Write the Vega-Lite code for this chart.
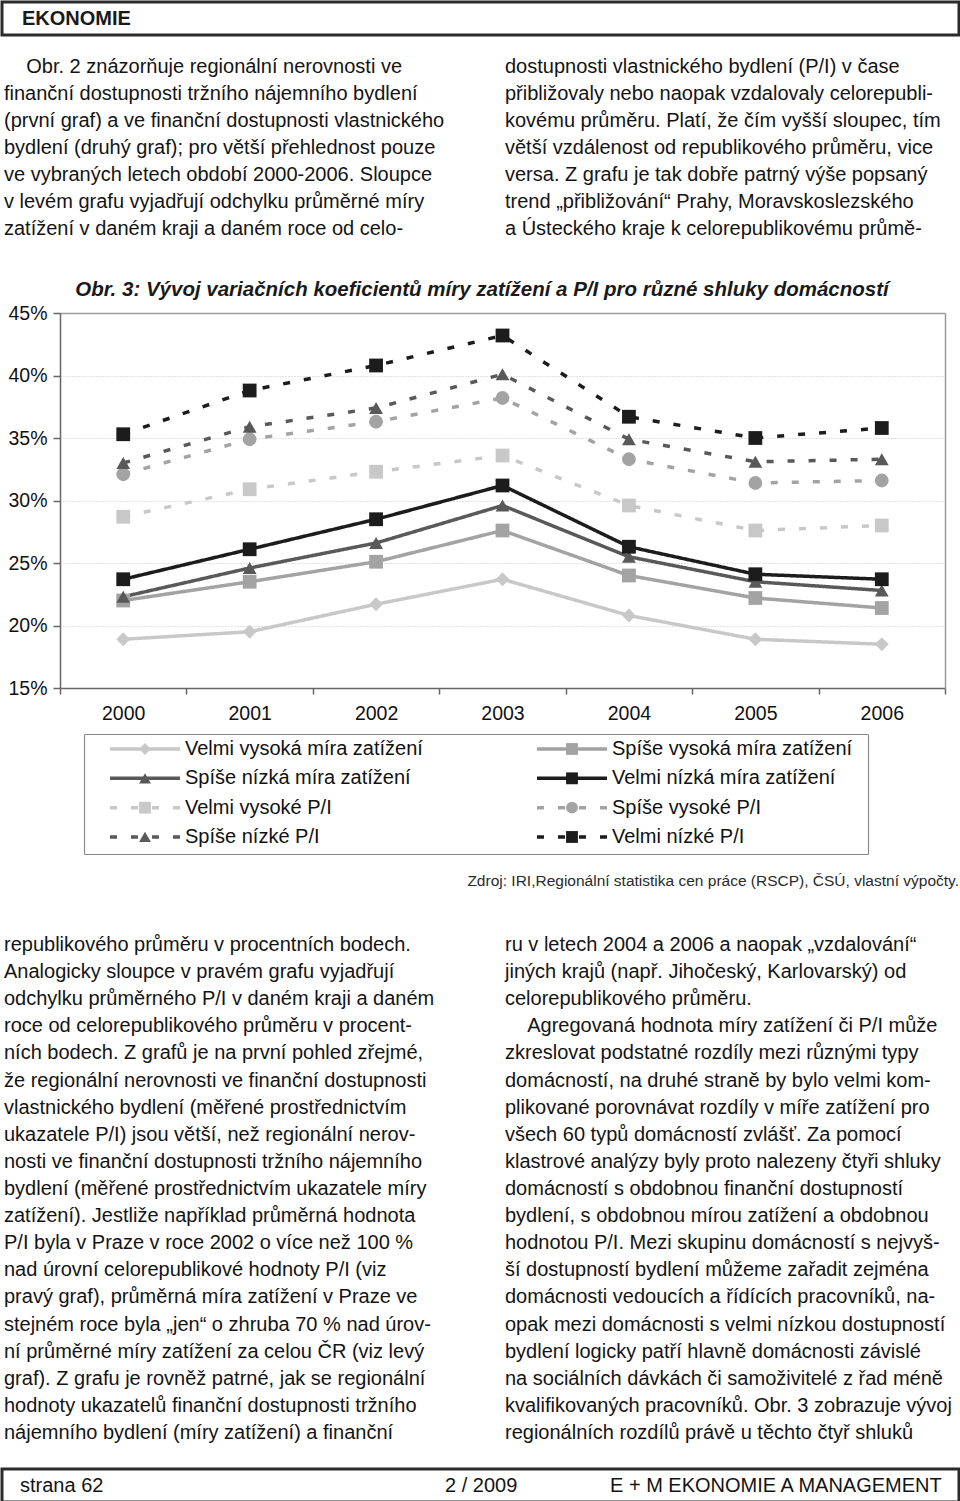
{
  "$schema": "https://vega.github.io/schema/vega-lite/v6.json",
  "background": "white",
  "padding": 0,
  "spacing": 0,
  "bounds": "flush",
  "config": {
    "font": "Liberation Sans",
    "view": {"stroke": null},
    "text": {"font": "Liberation Sans"}
  },
  "datasets": {
    "head": [{"slot": 0, "t": "EKONOMIE"}],
    "top": [
      {"c": 0, "l": 1, "t": "\u200b\u00a0\u00a0\u00a0\u00a0Obr. 2 znázorňuje regionální nerovnosti ve"},
      {"c": 0, "l": 2, "t": "finanční dostupnosti tržního nájemního bydlení"},
      {"c": 0, "l": 3, "t": "(první graf) a ve finanční dostupnosti vlastnického"},
      {"c": 0, "l": 4, "t": "bydlení (druhý graf); pro větší přehlednost pouze"},
      {"c": 0, "l": 5, "t": "ve vybraných letech období 2000-2006. Sloupce"},
      {"c": 0, "l": 6, "t": "v levém grafu vyjadřují odchylku průměrné míry"},
      {"c": 0, "l": 7, "t": "zatížení v daném kraji a daném roce od celo-"},
      {"c": 1, "l": 1, "t": "dostupnosti vlastnického bydlení (P/I) v čase"},
      {"c": 1, "l": 2, "t": "přibližovaly nebo naopak vzdalovaly celorepubli-"},
      {"c": 1, "l": 3, "t": "kovému průměru. Platí, že čím vyšší sloupec, tím"},
      {"c": 1, "l": 4, "t": "větší vzdálenost od republikového průměru, vice"},
      {"c": 1, "l": 5, "t": "versa. Z grafu je tak dobře patrný výše popsaný"},
      {"c": 1, "l": 6, "t": "trend „přibližování“ Prahy, Moravskoslezského"},
      {"c": 1, "l": 7, "t": "a Ústeckého kraje k celorepublikovému průmě-"}
    ],
    "pct": [
      {"series": "Velmi vysoká míra zatížení", "year": "2000", "v": 0.189},
      {"series": "Velmi vysoká míra zatížení", "year": "2001", "v": 0.195},
      {"series": "Velmi vysoká míra zatížení", "year": "2002", "v": 0.217},
      {"series": "Velmi vysoká míra zatížení", "year": "2003", "v": 0.237},
      {"series": "Velmi vysoká míra zatížení", "year": "2004", "v": 0.208},
      {"series": "Velmi vysoká míra zatížení", "year": "2005", "v": 0.189},
      {"series": "Velmi vysoká míra zatížení", "year": "2006", "v": 0.185},
      {"series": "Spíše vysoká míra zatížení", "year": "2000", "v": 0.220},
      {"series": "Spíše vysoká míra zatížení", "year": "2001", "v": 0.235},
      {"series": "Spíše vysoká míra zatížení", "year": "2002", "v": 0.251},
      {"series": "Spíše vysoká míra zatížení", "year": "2003", "v": 0.276},
      {"series": "Spíše vysoká míra zatížení", "year": "2004", "v": 0.240},
      {"series": "Spíše vysoká míra zatížení", "year": "2005", "v": 0.222},
      {"series": "Spíše vysoká míra zatížení", "year": "2006", "v": 0.214},
      {"series": "Spíše nízká míra zatížení", "year": "2000", "v": 0.223},
      {"series": "Spíše nízká míra zatížení", "year": "2001", "v": 0.246},
      {"series": "Spíše nízká míra zatížení", "year": "2002", "v": 0.266},
      {"series": "Spíše nízká míra zatížení", "year": "2003", "v": 0.296},
      {"series": "Spíše nízká míra zatížení", "year": "2004", "v": 0.255},
      {"series": "Spíše nízká míra zatížení", "year": "2005", "v": 0.235},
      {"series": "Spíše nízká míra zatížení", "year": "2006", "v": 0.228},
      {"series": "Velmi nízká míra zatížení", "year": "2000", "v": 0.237},
      {"series": "Velmi nízká míra zatížení", "year": "2001", "v": 0.261},
      {"series": "Velmi nízká míra zatížení", "year": "2002", "v": 0.285},
      {"series": "Velmi nízká míra zatížení", "year": "2003", "v": 0.312},
      {"series": "Velmi nízká míra zatížení", "year": "2004", "v": 0.263},
      {"series": "Velmi nízká míra zatížení", "year": "2005", "v": 0.241},
      {"series": "Velmi nízká míra zatížení", "year": "2006", "v": 0.237},
      {"series": "Velmi vysoké P/I", "year": "2000", "v": 0.287},
      {"series": "Velmi vysoké P/I", "year": "2001", "v": 0.309},
      {"series": "Velmi vysoké P/I", "year": "2002", "v": 0.323},
      {"series": "Velmi vysoké P/I", "year": "2003", "v": 0.336},
      {"series": "Velmi vysoké P/I", "year": "2004", "v": 0.296},
      {"series": "Velmi vysoké P/I", "year": "2005", "v": 0.276},
      {"series": "Velmi vysoké P/I", "year": "2006", "v": 0.280},
      {"series": "Spíše vysoké P/I", "year": "2000", "v": 0.321},
      {"series": "Spíše vysoké P/I", "year": "2001", "v": 0.349},
      {"series": "Spíše vysoké P/I", "year": "2002", "v": 0.363},
      {"series": "Spíše vysoké P/I", "year": "2003", "v": 0.382},
      {"series": "Spíše vysoké P/I", "year": "2004", "v": 0.333},
      {"series": "Spíše vysoké P/I", "year": "2005", "v": 0.314},
      {"series": "Spíše vysoké P/I", "year": "2006", "v": 0.316},
      {"series": "Spíše nízké P/I", "year": "2000", "v": 0.330},
      {"series": "Spíše nízké P/I", "year": "2001", "v": 0.359},
      {"series": "Spíše nízké P/I", "year": "2002", "v": 0.374},
      {"series": "Spíše nízké P/I", "year": "2003", "v": 0.401},
      {"series": "Spíše nízké P/I", "year": "2004", "v": 0.349},
      {"series": "Spíše nízké P/I", "year": "2005", "v": 0.331},
      {"series": "Spíše nízké P/I", "year": "2006", "v": 0.333},
      {"series": "Velmi nízké P/I", "year": "2000", "v": 0.353},
      {"series": "Velmi nízké P/I", "year": "2001", "v": 0.388},
      {"series": "Velmi nízké P/I", "year": "2002", "v": 0.408},
      {"series": "Velmi nízké P/I", "year": "2003", "v": 0.432},
      {"series": "Velmi nízké P/I", "year": "2004", "v": 0.367},
      {"series": "Velmi nízké P/I", "year": "2005", "v": 0.350},
      {"series": "Velmi nízké P/I", "year": "2006", "v": 0.358}
    ],
    "keys": [
      {"series": "Velmi vysoká míra zatížení", "row": 0, "col": 0},
      {"series": "Spíše vysoká míra zatížení", "row": 0, "col": 1},
      {"series": "Spíše nízká míra zatížení", "row": 1, "col": 0},
      {"series": "Velmi nízká míra zatížení", "row": 1, "col": 1},
      {"series": "Velmi vysoké P/I", "row": 2, "col": 0},
      {"series": "Spíše vysoké P/I", "row": 2, "col": 1},
      {"series": "Spíše nízké P/I", "row": 3, "col": 0},
      {"series": "Velmi nízké P/I", "row": 3, "col": 1}
    ],
    "src": [{"c": 1, "t": "Zdroj: IRI,Regionální statistika cen práce (RSCP), ČSÚ, vlastní výpočty."}],
    "body": [
      {"c": 0, "l": 1, "t": "republikového průměru v procentních bodech."},
      {"c": 0, "l": 2, "t": "Analogicky sloupce v pravém grafu vyjadřují"},
      {"c": 0, "l": 3, "t": "odchylku průměrného P/I v daném kraji a daném"},
      {"c": 0, "l": 4, "t": "roce od celorepublikového průměru v procent-"},
      {"c": 0, "l": 5, "t": "ních bodech. Z grafů je na první pohled zřejmé,"},
      {"c": 0, "l": 6, "t": "že regionální nerovnosti ve finanční dostupnosti"},
      {"c": 0, "l": 7, "t": "vlastnického bydlení (měřené prostřednictvím"},
      {"c": 0, "l": 8, "t": "ukazatele P/I) jsou větší, než regionální nerov-"},
      {"c": 0, "l": 9, "t": "nosti ve finanční dostupnosti tržního nájemního"},
      {"c": 0, "l": 10, "t": "bydlení (měřené prostřednictvím ukazatele míry"},
      {"c": 0, "l": 11, "t": "zatížení). Jestliže například průměrná hodnota"},
      {"c": 0, "l": 12, "t": "P/I byla v Praze v roce 2002 o více než 100 %"},
      {"c": 0, "l": 13, "t": "nad úrovní celorepublikové hodnoty P/I (viz"},
      {"c": 0, "l": 14, "t": "pravý graf), průměrná míra zatížení v Praze ve"},
      {"c": 0, "l": 15, "t": "stejném roce byla „jen“ o zhruba 70 % nad úrov-"},
      {"c": 0, "l": 16, "t": "ní průměrné míry zatížení za celou ČR (viz levý"},
      {"c": 0, "l": 17, "t": "graf). Z grafu je rovněž patrné, jak se regionální"},
      {"c": 0, "l": 18, "t": "hodnoty ukazatelů finanční dostupnosti tržního"},
      {"c": 0, "l": 19, "t": "nájemního bydlení (míry zatížení) a finanční"},
      {"c": 1, "l": 1, "t": "ru v letech 2004 a 2006 a naopak „vzdalování“"},
      {"c": 1, "l": 2, "t": "jiných krajů (např. Jihočeský, Karlovarský) od"},
      {"c": 1, "l": 3, "t": "celorepublikového průměru."},
      {"c": 1, "l": 4, "t": "\u200b\u00a0\u00a0\u00a0\u00a0Agregovaná hodnota míry zatížení či P/I může"},
      {"c": 1, "l": 5, "t": "zkreslovat podstatné rozdíly mezi různými typy"},
      {"c": 1, "l": 6, "t": "domácností, na druhé straně by bylo velmi kom-"},
      {"c": 1, "l": 7, "t": "plikované porovnávat rozdíly v míře zatížení pro"},
      {"c": 1, "l": 8, "t": "všech 60 typů domácností zvlášť. Za pomocí"},
      {"c": 1, "l": 9, "t": "klastrové analýzy byly proto nalezeny čtyři shluky"},
      {"c": 1, "l": 10, "t": "domácností s obdobnou finanční dostupností"},
      {"c": 1, "l": 11, "t": "bydlení, s obdobnou mírou zatížení a obdobnou"},
      {"c": 1, "l": 12, "t": "hodnotou P/I. Mezi skupinu domácností s nejvyš-"},
      {"c": 1, "l": 13, "t": "ší dostupností bydlení můžeme zařadit zejména"},
      {"c": 1, "l": 14, "t": "domácnosti vedoucích a řídících pracovníků, na-"},
      {"c": 1, "l": 15, "t": "opak mezi domácnosti s velmi nízkou dostupností"},
      {"c": 1, "l": 16, "t": "bydlení logicky patří hlavně domácnosti závislé"},
      {"c": 1, "l": 17, "t": "na sociálních dávkách či samoživitelé z řad méně"},
      {"c": 1, "l": 18, "t": "kvalifikovaných pracovníků. Obr. 3 zobrazuje vývoj"},
      {"c": 1, "l": 19, "t": "regionálních rozdílů právě u těchto čtyř shluků"}
    ],
    "foot": [
      {"s": 0, "t": "strana 62"},
      {"s": 1, "t": "2 / 2009"},
      {"s": 2, "t": "E + M EKONOMIE A MANAGEMENT"}
    ]
  },
  "vconcat": [
    {
      "width": 957,
      "height": 33,
      "view": {"stroke": "#2b2b2b", "strokeWidth": 3},
      "data": {"name": "head"},
      "mark": {"type": "text", "align": "left", "baseline": "middle", "fontSize": 20, "fontWeight": "bold", "color": "#1a1a1a"},
      "encoding": {
        "x": {"field": "slot", "type": "quantitative", "scale": {"domain": [0, 1], "range": [20, 957]}, "axis": null},
        "text": {"field": "t"}
      }
    },
    {
      "width": 960,
      "height": 278,
      "data": {"name": "top"},
      "mark": {"type": "text", "align": "left", "baseline": "middle", "fontSize": 20, "color": "#141414"},
      "encoding": {
        "x": {"field": "c", "type": "quantitative", "scale": {"domain": [0, 1], "range": [2, 503]}, "axis": null},
        "y": {"field": "l", "type": "quantitative", "scale": {"domain": [1, 7], "range": [32, 194]}, "axis": null},
        "text": {"field": "t"}
      }
    },
    {
      "width": 960,
      "height": 375,
      "title": {
        "text": "Obr. 3: Vývoj variačních koeficientů míry zatížení a P/I pro různé shluky domácností",
        "anchor": "middle",
        "frame": "group",
        "offset": 3,
        "fontSize": 20.5,
        "fontWeight": "bold",
        "fontStyle": "italic",
        "color": "#1a1a1a"
      },
      "data": {"name": "pct"},
      "resolve": {"axis": {"x": "independent", "y": "independent"}},
      "layer": [
        {
          "mark": {"type": "line", "strokeWidth": 3.5},
          "encoding": {
            "x": {
              "field": "year", "type": "ordinal", "bandPosition": 0.5,
              "scale": {"type": "band", "range": [58, 943], "paddingInner": 0, "paddingOuter": 0},
              "axis": {"orient": "bottom", "title": null, "tickBand": "extent", "tickSize": 6, "tickWidth": 1.5, "tickColor": "#666", "domainColor": "#666", "domainWidth": 1.5, "labelFontSize": 19.5, "labelPadding": 10, "labelColor": "#111", "labelAngle": 0, "grid": false}
            },
            "y": {
              "field": "v", "type": "quantitative",
              "scale": {"domain": [0.15, 0.45], "nice": false, "zero": false},
              "axis": {"orient": "left", "offset": -58, "title": null, "values": [0.15, 0.2, 0.25, 0.3, 0.35, 0.4, 0.45], "format": ".0%", "tickSize": 7, "tickWidth": 1.5, "tickColor": "#666", "domainColor": "#666", "domainWidth": 1.5, "labelFontSize": 19.5, "labelPadding": 6, "labelColor": "#111", "grid": true, "gridColor": "#c4c4c4", "gridDash": [1, 2], "gridWidth": 1}
            },
            "color": {
              "field": "series", "type": "nominal", "legend": null,
              "scale": {
                "domain": ["Velmi vysoká míra zatížení", "Spíše vysoká míra zatížení", "Spíše nízká míra zatížení", "Velmi nízká míra zatížení", "Velmi vysoké P/I", "Spíše vysoké P/I", "Spíše nízké P/I", "Velmi nízké P/I"],
                "range": ["#c8c8c8", "#a3a3a3", "#595959", "#1c1c1c", "#c8c8c8", "#a3a3a3", "#595959", "#1c1c1c"]
              }
            },
            "strokeDash": {
              "field": "series", "type": "nominal", "legend": null,
              "scale": {
                "domain": ["Velmi vysoká míra zatížení", "Spíše vysoká míra zatížení", "Spíše nízká míra zatížení", "Velmi nízká míra zatížení", "Velmi vysoké P/I", "Spíše vysoké P/I", "Spíše nízké P/I", "Velmi nízké P/I"],
                "range": [[1, 0], [1, 0], [1, 0], [1, 0], [7, 14], [7, 14], [7, 14], [7, 14]]
              }
            }
          }
        },
        {
          "mark": {"type": "point", "filled": true, "opacity": 1, "size": 190},
          "encoding": {
            "x": {
              "field": "year", "type": "ordinal", "bandPosition": 0.5,
              "scale": {"type": "band", "range": [58, 943], "paddingInner": 0, "paddingOuter": 0},
              "axis": {"orient": "top", "title": null, "labels": false, "ticks": false, "grid": false, "domainColor": "#9a9a9a", "domainWidth": 1.5}
            },
            "y": {
              "field": "v", "type": "quantitative",
              "scale": {"domain": [0.15, 0.45], "nice": false, "zero": false},
              "axis": {"orient": "right", "offset": -17, "title": null, "labels": false, "ticks": false, "grid": false, "domainColor": "#9a9a9a", "domainWidth": 1.5}
            },
            "color": {
              "field": "series", "type": "nominal", "legend": null,
              "scale": {
                "domain": ["Velmi vysoká míra zatížení", "Spíše vysoká míra zatížení", "Spíše nízká míra zatížení", "Velmi nízká míra zatížení", "Velmi vysoké P/I", "Spíše vysoké P/I", "Spíše nízké P/I", "Velmi nízké P/I"],
                "range": ["#c8c8c8", "#a3a3a3", "#595959", "#1c1c1c", "#c8c8c8", "#a3a3a3", "#595959", "#1c1c1c"]
              }
            },
            "shape": {
              "field": "series", "type": "nominal", "legend": null,
              "scale": {
                "domain": ["Velmi vysoká míra zatížení", "Spíše vysoká míra zatížení", "Spíše nízká míra zatížení", "Velmi nízká míra zatížení", "Velmi vysoké P/I", "Spíše vysoké P/I", "Spíše nízké P/I", "Velmi nízké P/I"],
                "range": ["diamond", "square", "triangle-up", "square", "square", "circle", "triangle-up", "square"]
              }
            }
          }
        }
      ]
    },
    {
      "width": 960,
      "height": 166,
      "data": {"name": "keys"},
      "resolve": {"axis": {"x": "independent", "y": "independent"}},
      "layer": [
        {
          "mark": {"type": "rule", "strokeWidth": 3.5, "x2Offset": 70},
          "encoding": {
            "x": {"field": "col", "type": "quantitative", "scale": {"domain": [-0.0609, 1.7752], "range": [82, 866]}, "axis": {"orient": "bottom", "labels": false, "ticks": false, "grid": false, "title": null, "domainColor": "#8a8a8a", "domainWidth": 1.2}},
            "x2": {"field": "col"},
            "y": {"field": "row", "type": "quantitative", "scale": {"domain": [-0.511, 3.58], "range": [46, 166]}, "axis": {"orient": "left", "offset": -82, "labels": false, "ticks": false, "grid": false, "title": null, "domainColor": "#8a8a8a", "domainWidth": 1.2}},
            "color": {
              "field": "series", "type": "nominal", "legend": null,
              "scale": {
                "domain": ["Velmi vysoká míra zatížení", "Spíše vysoká míra zatížení", "Spíše nízká míra zatížení", "Velmi nízká míra zatížení", "Velmi vysoké P/I", "Spíše vysoké P/I", "Spíše nízké P/I", "Velmi nízké P/I"],
                "range": ["#c8c8c8", "#a3a3a3", "#595959", "#1c1c1c", "#c8c8c8", "#a3a3a3", "#595959", "#1c1c1c"]
              }
            },
            "strokeDash": {
              "field": "series", "type": "nominal", "legend": null,
              "scale": {
                "domain": ["Velmi vysoká míra zatížení", "Spíše vysoká míra zatížení", "Spíše nízká míra zatížení", "Velmi nízká míra zatížení", "Velmi vysoké P/I", "Spíše vysoké P/I", "Spíše nízké P/I", "Velmi nízké P/I"],
                "range": [[1, 0], [1, 0], [1, 0], [1, 0], [7, 14], [7, 14], [7, 14], [7, 14]]
              }
            }
          }
        },
        {
          "mark": {"type": "point", "filled": true, "opacity": 1, "size": 140, "xOffset": 35},
          "encoding": {
            "x": {"field": "col", "type": "quantitative", "scale": {"domain": [-0.0609, 1.7752], "range": [82, 866]}, "axis": {"orient": "top", "offset": -46, "labels": false, "ticks": false, "grid": false, "title": null, "domainColor": "#8a8a8a", "domainWidth": 1.2}},
            "y": {"field": "row", "type": "quantitative", "scale": {"domain": [-0.511, 3.58], "range": [46, 166]}, "axis": {"orient": "right", "offset": -94, "labels": false, "ticks": false, "grid": false, "title": null, "domainColor": "#8a8a8a", "domainWidth": 1.2}},
            "color": {
              "field": "series", "type": "nominal", "legend": null,
              "scale": {
                "domain": ["Velmi vysoká míra zatížení", "Spíše vysoká míra zatížení", "Spíše nízká míra zatížení", "Velmi nízká míra zatížení", "Velmi vysoké P/I", "Spíše vysoké P/I", "Spíše nízké P/I", "Velmi nízké P/I"],
                "range": ["#c8c8c8", "#a3a3a3", "#595959", "#1c1c1c", "#c8c8c8", "#a3a3a3", "#595959", "#1c1c1c"]
              }
            },
            "shape": {
              "field": "series", "type": "nominal", "legend": null,
              "scale": {
                "domain": ["Velmi vysoká míra zatížení", "Spíše vysoká míra zatížení", "Spíše nízká míra zatížení", "Velmi nízká míra zatížení", "Velmi vysoké P/I", "Spíše vysoké P/I", "Spíše nízké P/I", "Velmi nízké P/I"],
                "range": ["diamond", "square", "triangle-up", "square", "square", "circle", "triangle-up", "square"]
              }
            }
          }
        },
        {
          "mark": {"type": "text", "align": "left", "baseline": "middle", "fontSize": 20, "color": "#111", "xOffset": 75},
          "encoding": {
            "x": {"field": "col", "type": "quantitative", "scale": {"domain": [-0.0609, 1.7752], "range": [82, 866]}, "axis": null},
            "y": {"field": "row", "type": "quantitative", "scale": {"domain": [-0.511, 3.58], "range": [46, 166]}, "axis": null},
            "text": {"field": "series"}
          }
        }
      ]
    },
    {
      "width": 960,
      "height": 53,
      "data": {"name": "src"},
      "mark": {"type": "text", "align": "right", "baseline": "middle", "fontSize": 15.5, "color": "#2a2a2a"},
      "encoding": {
        "x": {"field": "c", "type": "quantitative", "scale": {"domain": [0, 1], "range": [0, 957]}, "axis": null},
        "text": {"field": "t"}
      }
    },
    {
      "width": 960,
      "height": 562,
      "data": {"name": "body"},
      "mark": {"type": "text", "align": "left", "baseline": "middle", "fontSize": 20, "color": "#141414"},
      "encoding": {
        "x": {"field": "c", "type": "quantitative", "scale": {"domain": [0, 1], "range": [2, 503]}, "axis": null},
        "y": {"field": "l", "type": "quantitative", "scale": {"domain": [1, 19], "range": [38, 526]}, "axis": null},
        "text": {"field": "t"}
      }
    },
    {
      "width": 957,
      "height": 33,
      "view": {"stroke": "#2b2b2b", "strokeWidth": 3},
      "data": {"name": "foot"},
      "mark": {"type": "text", "align": "left", "baseline": "middle", "fontSize": 20, "color": "#141414"},
      "encoding": {
        "x": {"field": "s", "type": "quantitative", "scale": {"domain": [0, 1, 2], "range": [18, 443, 608]}, "axis": null},
        "text": {"field": "t"}
      }
    }
  ]
}
